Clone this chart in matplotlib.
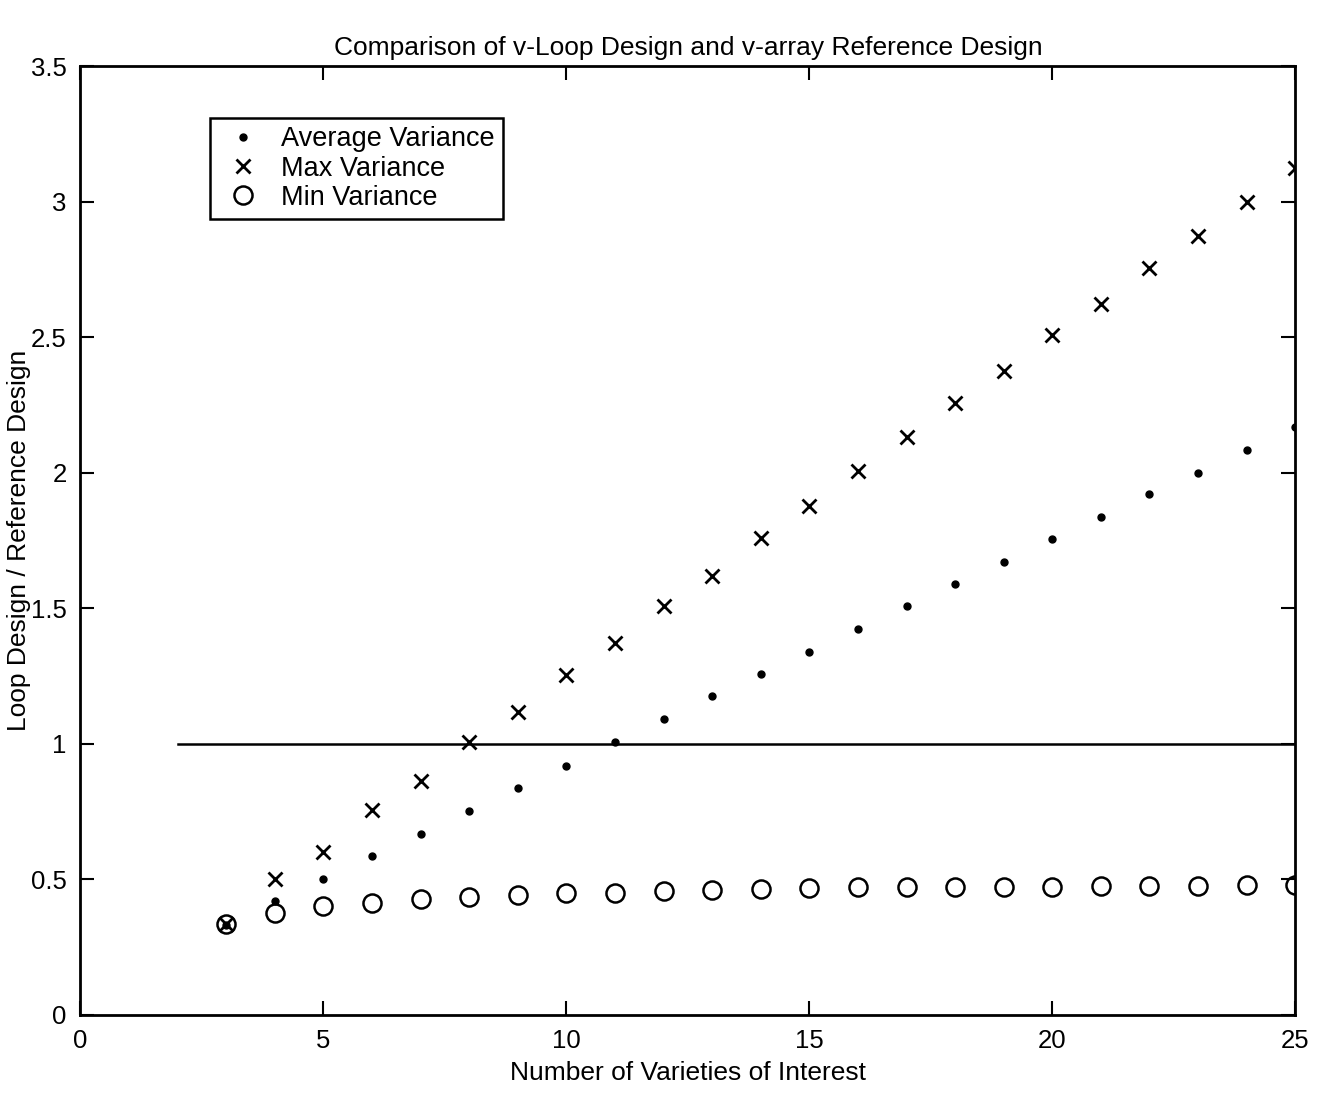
import matplotlib
matplotlib.use("Agg")
import matplotlib.pyplot as plt
import numpy as np

plt.rcParams['font.family'] = ['Liberation Sans', 'DejaVu Sans']

# number of varieties of interest
n_var = np.arange(3, 26)

# loop design / reference design ratios
avg_var = [0.333, 0.419, 0.50, 0.584, 0.668, 0.753, 0.837, 0.918, 1.006, 1.09,
           1.175, 1.256, 1.34, 1.424, 1.509, 1.59, 1.67, 1.755, 1.835, 1.92,
           2.0, 2.085, 2.169]
max_var = [0.334, 0.50, 0.60, 0.754, 0.861, 1.008, 1.118, 1.254, 1.372, 1.508,
           1.618, 1.758, 1.876, 2.008, 2.13, 2.258, 2.376, 2.508, 2.622, 2.755,
           2.873, 3.0, 3.123]
min_var = [0.334, 0.375, 0.40, 0.414, 0.428, 0.435, 0.442, 0.449, 0.451, 0.458,
           0.462, 0.465, 0.468, 0.471, 0.47, 0.473, 0.473, 0.472, 0.475, 0.475,
           0.474, 0.478, 0.48]

ref_x = [2, 25]
ref_y = [1, 1]

xticks = [0, 5, 10, 15, 20, 25]
yticks = [0, 0.5, 1, 1.5, 2, 2.5, 3, 3.5]

fig = plt.figure(figsize=(13.19, 11.03), dpi=100)
ax = fig.add_axes([0.061, 0.08, 0.921, 0.86])

ax.plot(n_var, avg_var, 'k.', markersize=10, label='Average Variance')
ax.plot(n_var, max_var, 'kx', markersize=10, markeredgewidth=2, label='Max Variance')
ax.plot(n_var, min_var, 'o', markersize=13, markerfacecolor='none',
        markeredgecolor='k', markeredgewidth=1.8, label='Min Variance')
ax.plot(ref_x, ref_y, 'k-', linewidth=1.8)

ax.set_xlim(0, 25)
ax.set_ylim(0, 3.5)
ax.set_xticks(xticks)
ax.set_xticklabels([str(t) for t in xticks])
ax.set_yticks(yticks)
ax.set_yticklabels(['0', '0.5', '1', '1.5', '2', '2.5', '3', '3.5'])
ax.tick_params(direction='in', length=10, width=1.5, top=True, right=True,
               labelsize=18.5, pad=10)
for s in ax.spines.values():
    s.set_linewidth(2)

ax.set_xlabel('Number of Varieties of Interest', fontsize=19, labelpad=6)
ax.set_ylabel('Loop Design / Reference Design', fontsize=19, labelpad=0)
ax.set_title('Comparison of v-Loop Design and v-array Reference Design',
             fontsize=19, pad=8)

leg = ax.legend(loc='upper left', bbox_to_anchor=(0.107, 0.945), fontsize=19.5,
                fancybox=False, edgecolor='k', framealpha=1, borderpad=0.3,
                labelspacing=0.12, handletextpad=0.5, handlelength=1.8,
                borderaxespad=0)
leg.get_frame().set_linewidth(1.8)

fig.savefig('out.png', dpi=100)
